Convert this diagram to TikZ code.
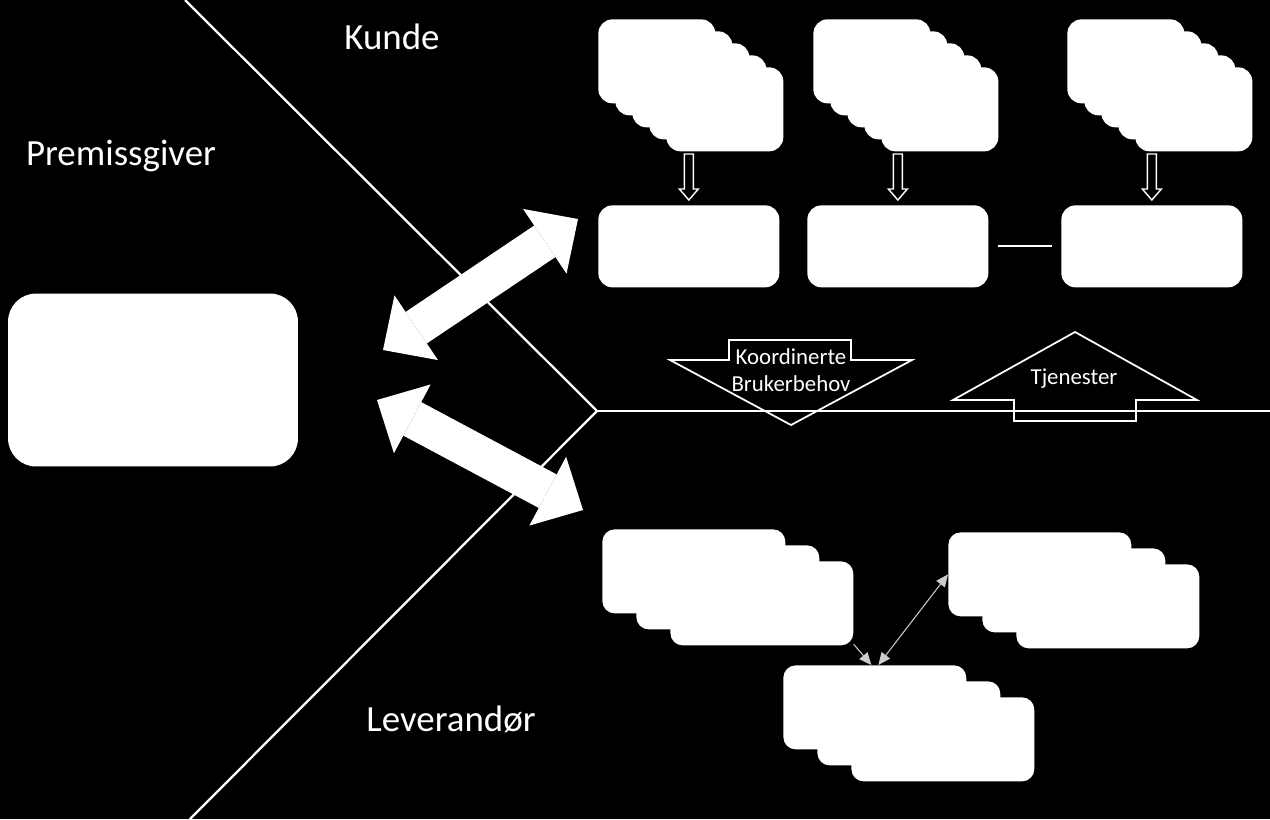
\documentclass[tikz,border=0pt]{standalone}
\usepackage{fontspec}
\setmainfont{Carlito}
\usepackage{tikz}
\usetikzlibrary{arrows.meta, positioning, calc}
\tikzstyle{zonelabel} = [text=white, font=\fontsize{21}{25}\selectfont]
\tikzstyle{arrowtext} = [text=white, align=center, inner sep=0pt, font=\fontsize{13}{15.5}\selectfont]
\tikzstyle{card} = [rectangle, rounded corners=8pt, fill=white, inner sep=0pt, minimum width=2.34cm, minimum height=1.68cm, anchor=north west]
\tikzstyle{widecard} = [card, rounded corners=7pt, minimum width=3.66cm]
\tikzstyle{box} = [rectangle, rounded corners=8pt, fill=white, inner sep=0pt, minimum width=3.62cm, minimum height=1.64cm, anchor=north west]
\tikzstyle{bigbox} = [rectangle, rounded corners=16pt, fill=white, inner sep=0pt, minimum width=5.8cm, minimum height=3.46cm]
\tikzstyle{border} = [draw=white, line width=1.3pt]
\tikzstyle{blockarrow} = [draw=white, line width=1pt]
\tikzstyle{hollow} = [draw=white, fill=black, line width=0.8pt]
\tikzstyle{bigarrow} = [white, line width=0.76cm, {Triangle[length=0.8cm, width=1.56cm, line width=0pt]}-{Triangle[length=0.8cm, width=1.56cm, line width=0pt]}]
\tikzstyle{thinarrow} = [draw=white!80!black, line width=0.6pt, -{Triangle[length=7pt, width=6pt]}]
\newcommand{\hollowdown}[1]{\draw[hollow] ([yshift=0.1cm]#1.north) -- ++(-9.5,-11) -- ++(5,0) -- ++(0,-35) -- ++(9,0) -- ++(0,35) -- ++(5,0) -- cycle;}

\begin{document}
\begin{tikzpicture}[x=0.02cm, y=-0.02cm]
\path[use as bounding box, fill=black] (0,0) rectangle (1270,819);

% Zone borders
\coordinate (btop) at (185,0);
\coordinate (bmid) at (597,411);
\coordinate (bbot) at (190,819);
\coordinate (bright) at (1270,411);
\draw[border] (btop) -- (bmid) -- (bbot);
\draw[border] (bmid) -- (bright);

% Zone labels
\node (kunde) [zonelabel] at (392,37) {Kunde};
\node (premiss) [zonelabel] at (121,156) {Premissgiver};
\node (lev) [zonelabel] at (451,719) {Leverandør};

% Premissgiver
\node (pg) [bigbox] at (153,380) {};

% Kunde stacks
\foreach \x/\n in {598/ka, 813/kb, 1067/kc}
  \foreach \i in {0,...,4}
    \node (\n\i) [card] at (\x+17*\i, 19+12*\i) {};

\node (ma) [box] at (598,205) {};
\node (mb) [box] at (807,205) {};
\node (mc) [box] at (1061,205) {};
\draw[border, shorten <=0.18cm, shorten >=0.18cm] (mb) -- (mc);
\foreach \n in {ma,mb,mc}
  {\hollowdown{\n}}

% Leverandør stacks
\foreach \x/\y/\n in {602/529/la, 948/532/lb, 783/665/lc}
  \foreach \i in {0,1,2}
    \node (\n\i) [widecard] at (\x+34*\i, \y+16*\i) {};
\draw[thinarrow] (la2.-24) -- ([xshift=-0.07cm]lc0.north);
\draw[thinarrow, {Triangle[length=7pt, width=6pt]}-{Triangle[length=7pt, width=6pt]}] ([xshift=0.07cm]lc0.north) -- (lb0.west);

% Block arrows
\draw[blockarrow] (729,340) -- (851,340) -- (851,360) -- (912,360) -- (791,425) -- (670,360) -- (729,360) -- cycle;
\node (behov) [arrowtext] at (791,370) {Koordinerte\\Brukerbehov};
\draw[blockarrow] (1075,332) -- (1197,400) -- (1136,400) -- (1136,421) -- (1014,421) -- (1014,400) -- (953,400) -- cycle;
\node (tjen) [arrowtext] at (1074,379) {Tjenester};

% Exchange with Premissgiver
\coordinate (pgk) at (383,350);
\coordinate (kend) at (578,219);
\coordinate (pgl) at (377,400);
\coordinate (lend) at (583,510);
\draw[bigarrow] (pgk) -- (kend);
\draw[bigarrow] (pgl) -- (lend);

\end{tikzpicture}
\end{document}
